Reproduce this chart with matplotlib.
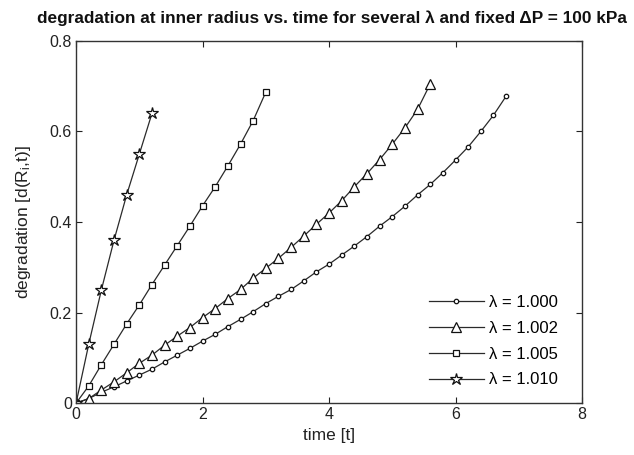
import matplotlib
matplotlib.use("Agg")
import matplotlib.pyplot as plt

plt.rcParams['font.family'] = ['Liberation Sans', 'DejaVu Sans']
plt.rcParams['mathtext.fontset'] = 'custom'
plt.rcParams['mathtext.rm'] = 'Liberation Sans'
plt.rcParams['mathtext.it'] = 'Liberation Sans'

# lambda = 1.000 (circles)
t_1000 = [0, 0.2, 0.4, 0.6, 0.8, 1.0, 1.2, 1.4, 1.6, 1.8, 2.0, 2.2, 2.4, 2.6, 2.8,
          3.0, 3.2, 3.4, 3.6, 3.8, 4.0, 4.2, 4.4, 4.6, 4.8, 5.0, 5.2, 5.4, 5.6, 5.8,
          6.0, 6.2, 6.4, 6.6, 6.8]
d_1000 = [0, 0.01, 0.024, 0.036, 0.049, 0.062, 0.075, 0.091, 0.106, 0.121, 0.137,
          0.152, 0.169, 0.185, 0.202, 0.22, 0.236, 0.251, 0.27, 0.29, 0.307, 0.327,
          0.347, 0.368, 0.391, 0.412, 0.435, 0.46, 0.483, 0.509, 0.537, 0.566, 0.60,
          0.636, 0.678]

# lambda = 1.002 (triangles)
t_1002 = [0, 0.2, 0.4, 0.6, 0.8, 1.0, 1.2, 1.4, 1.6, 1.8, 2.0, 2.2, 2.4, 2.6, 2.8,
          3.0, 3.2, 3.4, 3.6, 3.8, 4.0, 4.2, 4.4, 4.6, 4.8, 5.0, 5.2, 5.4, 5.6]
d_1002 = [0, 0.01, 0.029, 0.047, 0.067, 0.088, 0.106, 0.128, 0.148, 0.167, 0.189,
          0.209, 0.231, 0.251, 0.276, 0.298, 0.32, 0.344, 0.369, 0.395, 0.42, 0.447,
          0.478, 0.507, 0.538, 0.572, 0.608, 0.649, 0.705]

# lambda = 1.005 (squares)
t_1005 = [0, 0.2, 0.4, 0.6, 0.8, 1.0, 1.2, 1.4, 1.6, 1.8, 2.0, 2.2, 2.4, 2.6, 2.8, 3.0]
d_1005 = [0, 0.038, 0.085, 0.13, 0.175, 0.217, 0.262, 0.305, 0.348, 0.391, 0.436,
          0.478, 0.524, 0.572, 0.624, 0.687]

# lambda = 1.010 (stars)
t_1010 = [0, 0.2, 0.4, 0.6, 0.8, 1.0, 1.2]
d_1010 = [0, 0.13, 0.25, 0.36, 0.46, 0.55, 0.64]

labels = [u'\u03bb = 1.000', u'\u03bb = 1.002', u'\u03bb = 1.005', u'\u03bb = 1.010']
x_ticks = [0, 2, 4, 6, 8]
y_ticks = [0, 0.2, 0.4, 0.6, 0.8]
y_ticklabels = ['0', '0.2', '0.4', '0.6', '0.8']

fig = plt.figure(figsize=(6.34, 4.55), dpi=100)
ax = fig.add_axes([0.12, 0.114, 0.798, 0.796])

line_col = '#2a2a2a'
series = [
    (t_1000, d_1000, 'o', 3.2),
    (t_1002, d_1002, '^', 6.5),
    (t_1005, d_1005, 's', 5.0),
    (t_1010, d_1010, '*', 9.0),
]
for (t, d, mk, ms), lab in zip(series, labels):
    ax.plot(t, d, color=line_col, lw=0.9, marker=mk, ms=ms, mfc='white',
            mec='#111111', mew=0.9, label=lab)

ax.set_xlim(0, 8)
ax.set_ylim(0, 0.8)
ax.set_xticks(x_ticks)
ax.set_xticklabels([str(v) for v in x_ticks])
ax.set_yticks(y_ticks)
ax.set_yticklabels(y_ticklabels)
ax.tick_params(direction='in', top=True, right=True, length=4, width=0.8,
               labelsize=11.5, colors='#222222', pad=3)
for s in ax.spines.values():
    s.set_linewidth(1.0)
    s.set_color('#333333')

ax.set_xlabel('time [t]', fontsize=12.5, labelpad=4, color='#222222')
ax.set_ylabel('degradation [d(R$_{i}$,t)]', fontsize=12.5, labelpad=12, color='#222222')
ax.set_title(u'degradation at inner radius vs. time for several \u03bb and fixed \u0394P = 100 kPa',
             fontsize=12.4, fontweight='bold', pad=13, color='#111111', x=0.505)

leg = ax.legend(loc='lower right', bbox_to_anchor=(0.965, 0.025), frameon=False,
                fontsize=12, handlelength=3.3, handletextpad=0.3,
                labelspacing=0.65, borderaxespad=0.0)

fig.savefig('out.png', dpi=100)
